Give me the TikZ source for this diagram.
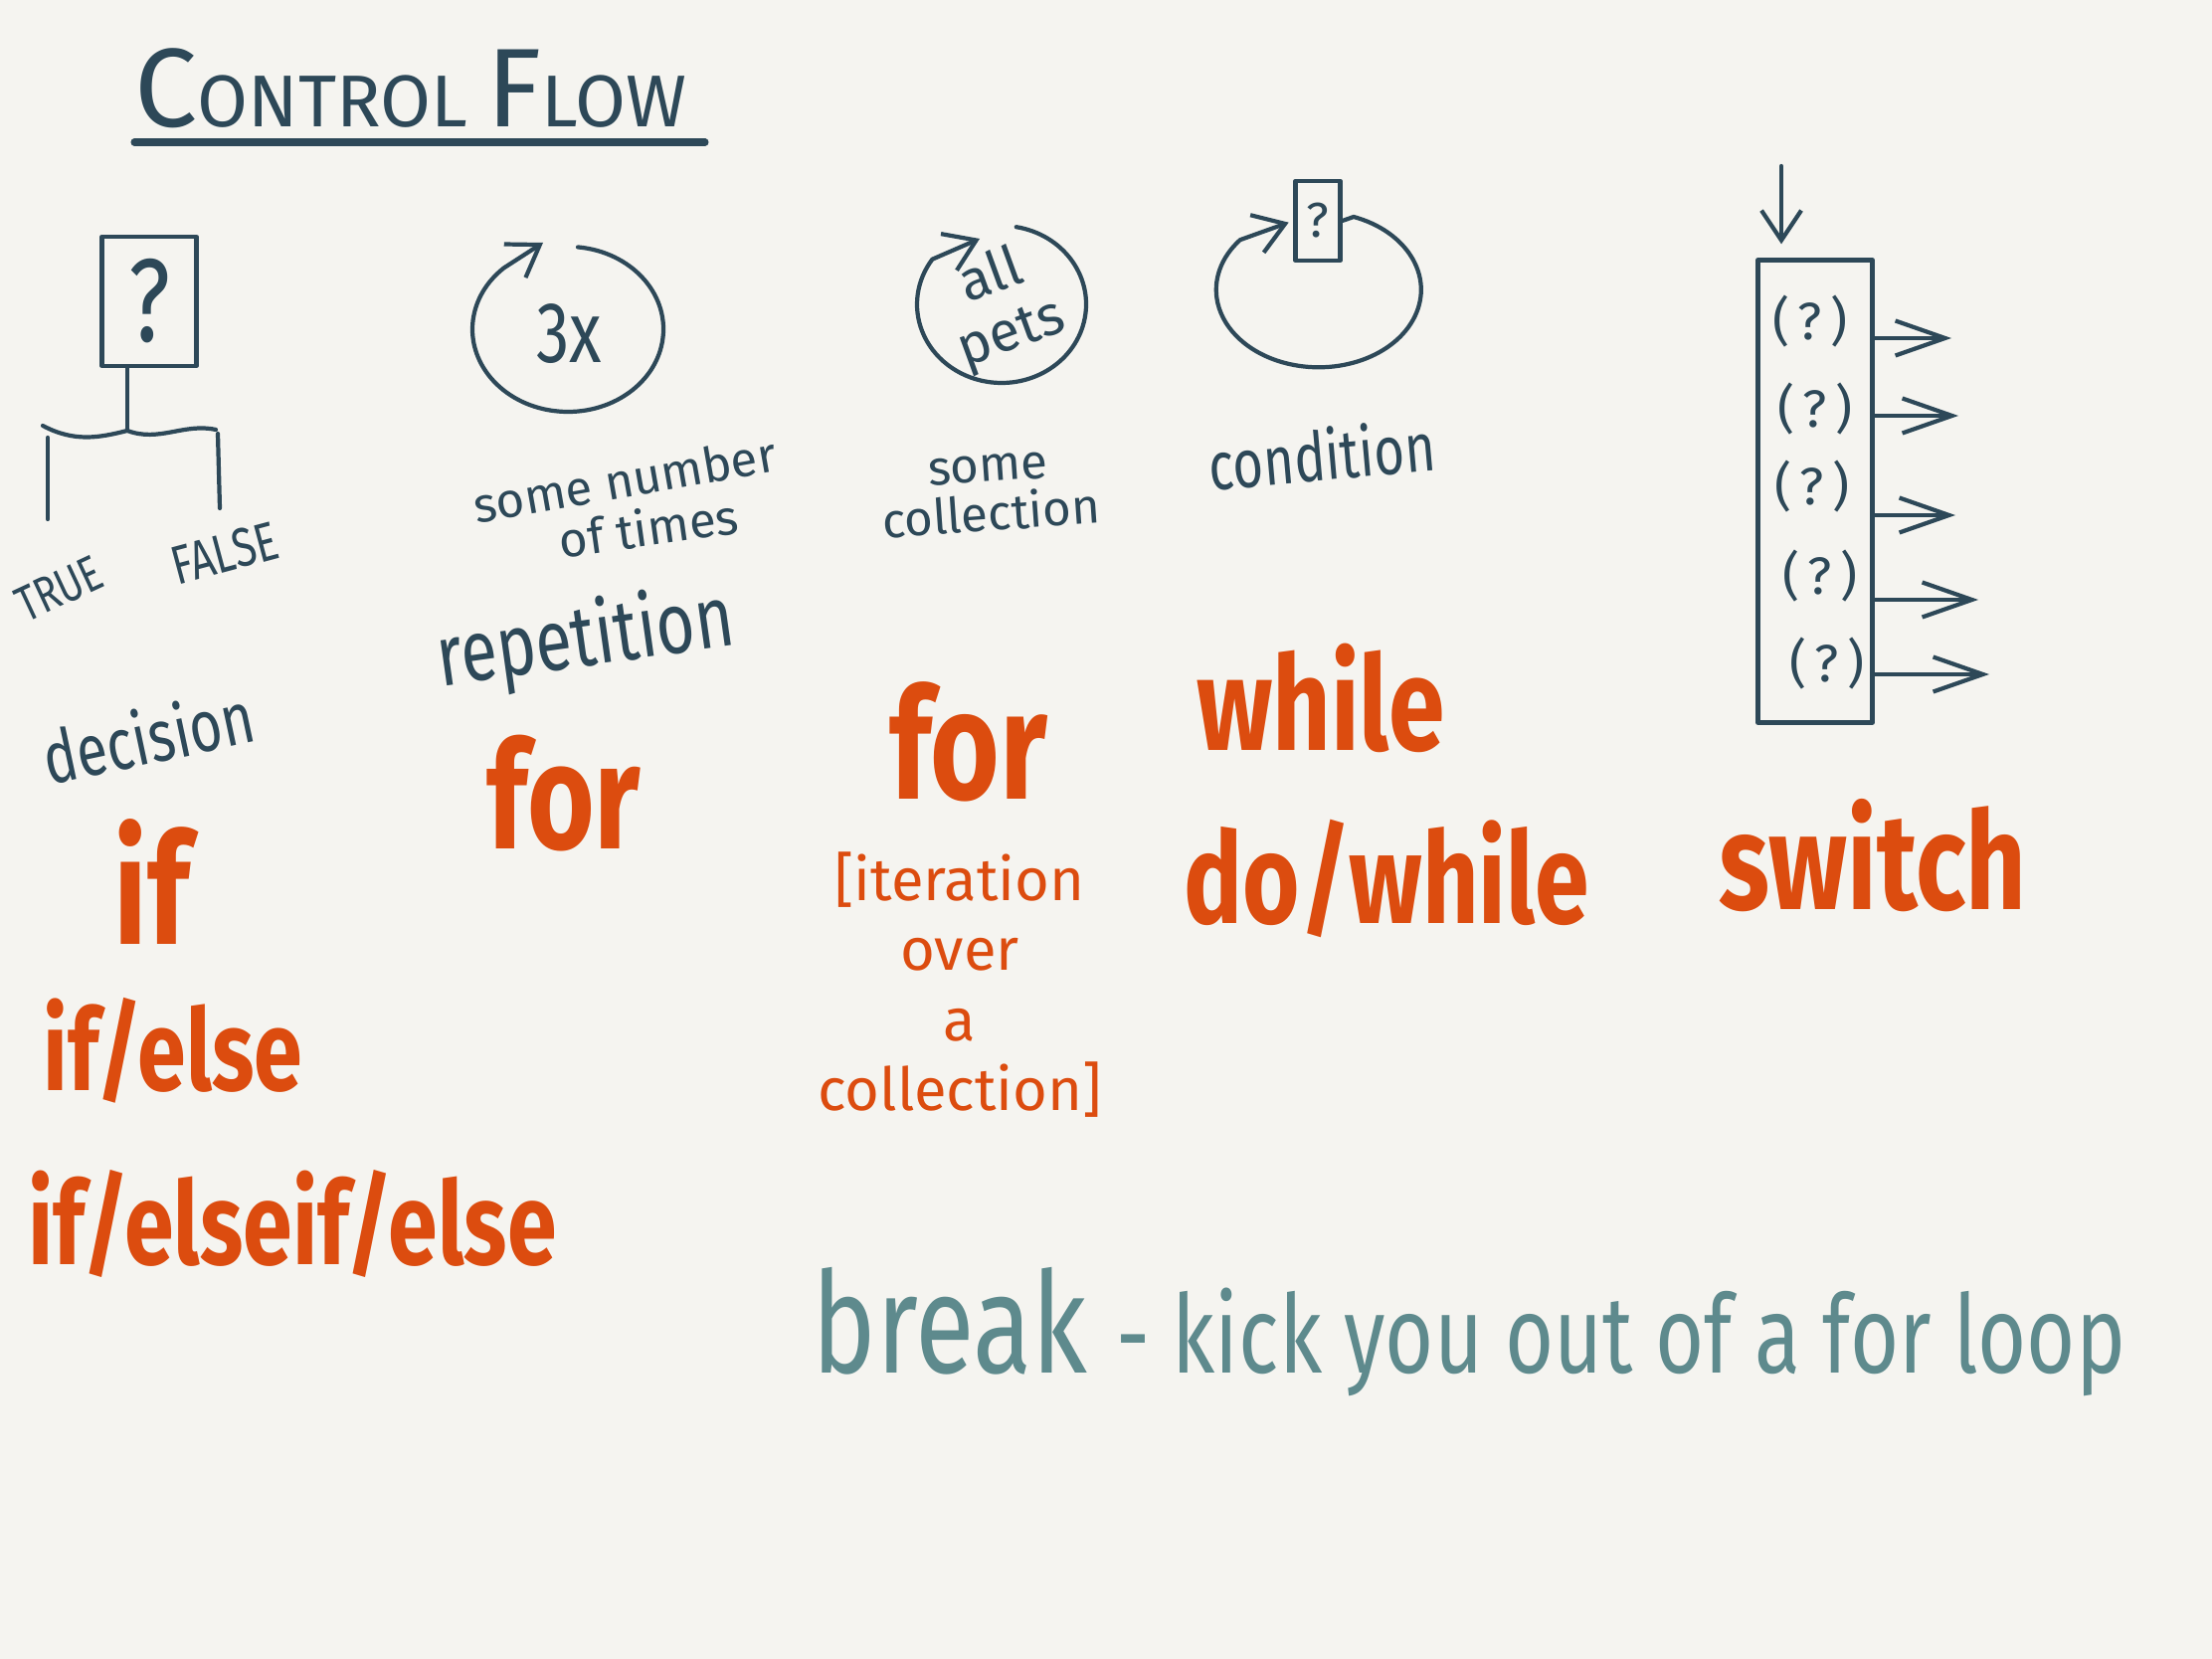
\documentclass[tikz,border=0pt]{standalone}
\usepackage{graphicx}
\usepackage{fontspec}
\setmainfont{Fira Sans}
\usetikzlibrary{arrows.meta,calc}
\definecolor{paper}{HTML}{F5F4F0}
\definecolor{ink}{HTML}{2D4858}
\definecolor{rust}{HTML}{DC4C0F}
\definecolor{breakink}{HTML}{5E8A8D}
\newcommand{\tallword}[1]{\scalebox{1}[1.3]{#1}}
\newcommand{\fsz}[1]{\fontsize{#1}{#1}\selectfont}
\tikzset{
  pen/.style={ink, line width=1.2pt, line cap=round, line join=round},
  hook/.style={pen, -{Straight Barb[length=3mm,width=4mm]}},
  swarrow/.style={pen, -{Straight Barb[length=5mm,width=3.5mm]}},
  note/.style={text=ink, inner sep=0pt, font=\fsz{#1}},
  word/.style={text=rust, inner sep=0pt, font=\bfseries\fsz{#1}},
}
\begin{document}
\begin{tikzpicture}[x=0.1mm, y=-0.1mm]
  \fill[paper] (0,0) rectangle (2224,1668);
  \useasboundingbox (0,0) rectangle (2224,1668);

  % title
  \node[note=21, anchor=base west] (title) at (135,128) {\fsz{32}C\fsz{21}ONTROL \fsz{32}F\fsz{21}LOW};
  \draw[pen, line width=2pt] (135,143) -- (709,143);

  % decision
  \node[pen, draw, note=26, minimum width=9.5mm, minimum height=13mm] (dq) at (150,303) {\tallword{?}};
  \coordinate (fork) at (128,433);
  \draw[pen] (dq.south -| fork) -- (fork);
  \draw[pen] (43,428) .. controls (75,445) and (100,440) .. (fork) .. controls (160,445) and (185,425) .. (217,432);
  \draw[pen] (48,440) -- (48,522);
  \draw[pen] (219,436) -- (221,511);
  \node[note=11, rotate=25] (true) at (60,592) {\tallword{TRUE}};
  \node[note=12, rotate=15] (false) at (226,556) {\tallword{FALSE}};
  \node[note=16, rotate=12] (decision) at (149,740) {\tallword{decision}};
  \node[word=34] (if) at (153,887) {\tallword{if}};
  \node[word=25] (ifelse) at (174,1056) {\tallword{if/else}};
  \node[word=25.5] (ifelseif) at (294,1230) {\tallword{if/elseif/else}};

  % repetition
  \coordinate (rc) at (571,331);
  \draw[hook] (rc) ++(-84:96 and 83) arc[start angle=-84, end angle=228, x radius=96, y radius=83] -- (546,244);
  \node[note=19] (times) at (572,336) {\tallword{3x}};
  \node[note=14, rotate=10] (num1) at (628,482) {some number};
  \node[note=14, rotate=8] (num2) at (652,530) {of times};
  \node[note=19, rotate=8] (repetition) at (589,645) {\tallword{repetition}};
  \node[word=33] (for1) at (567,798) {\tallword{for}};

  % collection
  \coordinate (cc) at (1007,306);
  \draw[hook] (cc) ++(-80:85 and 79) arc[start angle=-80, end angle=215, x radius=85, y radius=79] -- (985,240);
  \node[note=16, rotate=20, align=center, font=\fontsize{16}{17}\selectfont] (pets) at (1007,308) {all\\pets};
  \node[note=14, rotate=4, align=center, font=\fontsize{14}{14}\selectfont] (coll) at (995,496) {some\\collection};
  \node[word=34] (for2) at (974,746) {\tallword{for}};
  \node[text=rust, inner sep=0pt, align=center, font=\fontsize{17}{20}\selectfont] (iter) at (965,990) {[iteration\\over\\a\\collection]};

  % condition
  \node[pen, draw, note=14, minimum width=4.5mm, minimum height=8mm] (cq) at (1325,222) {?};
  \draw[hook, shorten >=0.5mm] (cq.east) -- (1361,218) arc[start angle=-70, end angle=220, x radius=103, y radius=78] -- (cq.west);
  \node[note=15, rotate=5] (cond) at (1329,457) {\tallword{condition}};
  \node[word=29] (while) at (1328,702) {\tallword{while}};
  \node[word=28] (dowhile) at (1394,883) {\tallword{do/while}};

  % switch
  \node[pen, draw, minimum width=11.5mm, minimum height=46.5mm] (sw) at (1825,494) {};
  \coordinate (swin) at (1791,167);
  \draw[hook, shorten >=1.4mm] (swin) -- (swin |- sw.north);
  \foreach \n/\x/\y in {1/1820/323, 2/1825/411, 3/1822/489, 4/1830/579, 5/1837/667}
    \node[note=15] (q\n) at (\x,\y) {(\,?\,)};
  \foreach \n/\x/\y in {1/1962/340, 2/1969/418, 3/1966/518, 4/1989/603, 5/2000/678} {
    \coordinate (out\n) at (\x,\y);
    \draw[swarrow] (sw.east |- out\n) -- (out\n);
  }
  \node[word=30] (switch) at (1883,860) {\tallword{switch}};

  % break
  \node[anchor=base west, text=breakink, inner sep=0pt, font=\fsz{24}] (brk) at (816,1380) {\tallword{\fsz{31}break \fsz{24}- kick you out of a for loop}};
\end{tikzpicture}
\end{document}
